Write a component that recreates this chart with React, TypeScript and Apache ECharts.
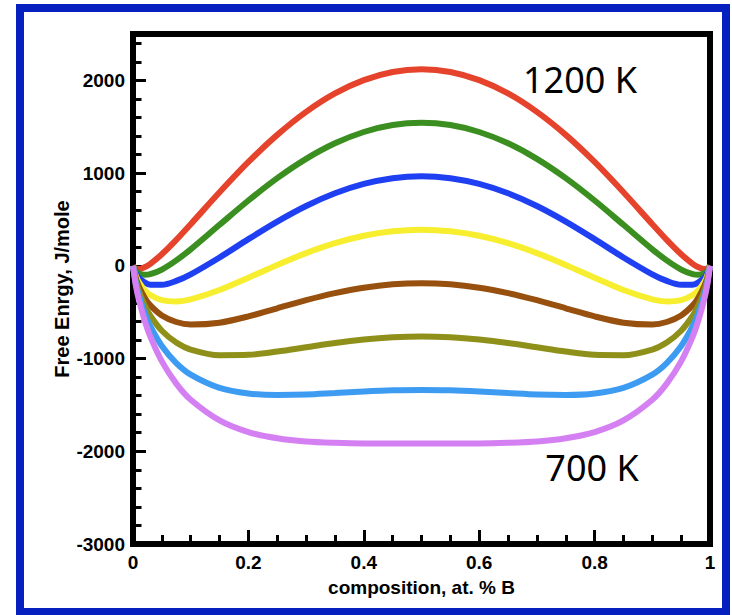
import React, { useEffect, useRef } from "react";
import * as echarts from "echarts";

const compositions = [0, 0.005, 0.01, 0.02, 0.03, 0.05, 0.075, 0.1, 0.15, 0.2, 0.25, 0.3, 0.35, 0.4, 0.45, 0.5, 0.55, 0.6, 0.65, 0.7, 0.75, 0.8, 0.85, 0.9, 0.925, 0.95, 0.97, 0.98, 0.99, 0.995, 1];

const redCurve = [0, -31, -35, -15, 22, 125, 280, 449, 793, 1120, 1412, 1660, 1859, 2002, 2090, 2119, 2090, 2002, 1859, 1660, 1412, 1120, 793, 449, 280, 125, 22, -15, -35, -31, 0];
const greenCurve = [0, -58, -81, -97, -90, -40, 59, 178, 442, 704, 945, 1153, 1321, 1443, 1518, 1543, 1518, 1443, 1321, 1153, 945, 704, 442, 178, 59, -40, -90, -97, -81, -58, 0];
const blueCurve = [0, -84, -128, -178, -203, -205, -163, -92, 90, 288, 477, 645, 782, 883, 945, 966, 945, 883, 782, 645, 477, 288, 90, -92, -163, -205, -203, -178, -128, -84, 0];
const yellowCurve = [0, -110, -175, -260, -315, -370, -384, -362, -261, -128, 10, 137, 244, 324, 373, 390, 373, 324, 244, 137, 10, -128, -261, -362, -384, -370, -315, -260, -175, -110, 0];
const brownCurve = [0, -136, -221, -341, -427, -535, -606, -633, -613, -545, -458, -371, -295, -236, -199, -187, -199, -236, -295, -371, -458, -545, -613, -633, -606, -535, -427, -341, -221, -136, 0];
const oliveCurve = [0, -162, -268, -423, -539, -700, -827, -903, -964, -960, -925, -879, -832, -795, -771, -762, -771, -795, -832, -879, -925, -960, -964, -903, -827, -700, -539, -423, -268, -162, 0];
const lightBlueCurve = [0, -188, -314, -504, -651, -865, -1049, -1173, -1316, -1376, -1392, -1387, -1371, -1355, -1343, -1338, -1343, -1355, -1371, -1387, -1392, -1376, -1316, -1173, -1049, -865, -651, -504, -314, -188, 0];
const violetCurve = [0, -215, -361, -586, -763, -1030, -1270, -1444, -1667, -1793, -1860, -1895, -1909, -1915, -1915, -1915, -1915, -1915, -1909, -1895, -1860, -1793, -1667, -1444, -1270, -1030, -763, -586, -361, -215, 0];

const curveNames = ["red", "green", "blue", "yellow", "brown", "olive", "lightblue", "violet"];
const curveValues = [redCurve, greenCurve, blueCurve, yellowCurve, brownCurve, oliveCurve, lightBlueCurve, violetCurve];
const curveColors = ["#e5432b", "#3b8f20", "#1f3ff2", "#f6ee2e", "#97500e", "#8e901a", "#3d9cf2", "#d580f2"];

const xTitle = "composition, at. % B";
const yTitle = "Free Enrgy, J/mole";
const topLabel = "1200 K";
const bottomLabel = "700 K";

export default function App() {
  const ref = useRef<HTMLDivElement>(null);
  useEffect(() => {
    if (!ref.current) return;
    const chart = echarts.init(ref.current, undefined, { renderer: "svg" });
    const font = "'Liberation Sans', Arial, Helvetica, sans-serif";
    const labelStyle = { color: "#000", fontSize: 19, fontWeight: "bold" as const, fontFamily: font };
    chart.setOption({
      animation: false,
      backgroundColor: "#fff",
      grid: {
        left: 133,
        right: 22,
        top: 34,
        bottom: 71,
        show: true,
        borderColor: "#000",
        borderWidth: 6,
      },
      xAxis: {
        type: "value",
        min: 0,
        max: 1,
        interval: 0.2,
        name: xTitle,
        nameLocation: "middle",
        nameGap: 34,
        nameTextStyle: labelStyle,
        axisLine: { show: true, onZero: false, lineStyle: { color: "#000", width: 6 } },
        axisTick: { show: true, inside: true, length: 14, lineStyle: { color: "#000", width: 3 } },
        minorTick: { show: true, splitNumber: 4, length: 9, lineStyle: { color: "#000", width: 3 } },
        axisLabel: { ...labelStyle, margin: 9, formatter: (v: number) => String(Math.round(v * 10) / 10) },
        splitLine: { show: false },
      },
      yAxis: [
        {
          type: "value",
          min: -3000,
          max: 2500,
          interval: 1000,
          axisLine: { show: true, onZero: false, lineStyle: { color: "#000", width: 6 } },
          axisTick: { show: true, inside: true, length: 13, lineStyle: { color: "#000", width: 3 } },
          axisLabel: { ...labelStyle, margin: 8, showMaxLabel: false, formatter: (v: number) => String(v) },
          splitLine: { show: false },
        },
        {
          type: "value",
          min: -3000,
          max: 2500,
          interval: 200,
          position: "left",
          axisLine: { show: false, onZero: false },
          axisTick: { show: true, inside: true, length: 8.5, lineStyle: { color: "#000", width: 3 } },
          axisLabel: { show: false },
          splitLine: { show: false },
        },
      ],
      series: curveValues.map((vals, i) => ({
        name: curveNames[i],
        type: "line",
        yAxisIndex: 0,
        smooth: 0.3,
        showSymbol: false,
        lineStyle: { color: curveColors[i], width: 6 },
        data: compositions.map((x, j) => [x, vals[j]]),
        z: 2,
      })),
      graphic: [
        {
          type: "rect",
          shape: { x: 20, y: 8, width: 706, height: 604 },
          style: { fill: "none", stroke: "#0620c0", lineWidth: 8 },
          z: 10,
        },
        {
          type: "text",
          x: 62,
          y: 289,
          rotation: Math.PI / 2,
          style: {
            text: yTitle,
            fill: "#000",
            fontSize: 20,
            fontWeight: "bold",
            fontFamily: font,
            textAlign: "center",
            textVerticalAlign: "middle",
          },
          z: 10,
        },
        {
          type: "text",
          x: 580,
          y: 79,
          style: {
            text: topLabel,
            fill: "#000",
            fontSize: 36,
            fontFamily: "'Noto Sans', sans-serif",
            textAlign: "center",
            textVerticalAlign: "middle",
          },
          z: 10,
        },
        {
          type: "text",
          x: 592,
          y: 467,
          style: {
            text: bottomLabel,
            fill: "#000",
            fontSize: 36,
            fontFamily: "'Noto Sans', sans-serif",
            textAlign: "center",
            textVerticalAlign: "middle",
          },
          z: 10,
        },
      ],
    });
    return () => chart.dispose();
  }, []);
  return (
    <div
      ref={ref}
      style={{ position: "absolute", left: 0, top: 0, width: 732, height: 615 }}
    />
  );
}
